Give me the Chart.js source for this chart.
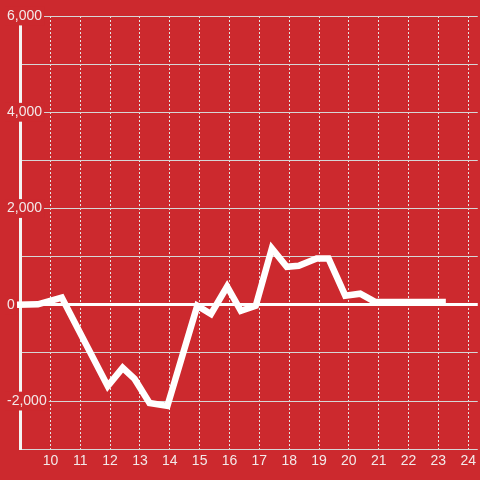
<!DOCTYPE html>
<html>
<head>
<meta charset="utf-8">
<script src="https://cdn.jsdelivr.net/npm/chart.js@4"></script>
<style>
  html, body { margin: 0; padding: 0; background: #cc292e; }
  #wrap { width: 480px; height: 480px; position: relative; }
</style>
</head>
<body>
<div id="wrap"><canvas id="chart"></canvas></div>
<script>
// Values (x = hour of day, y = value)
const hours = [8.88, 9.58, 10.38, 11.92, 12.42, 12.82, 13.32, 13.92, 14.92, 15.38, 15.92,
               16.38, 16.88, 17.42, 17.92, 18.32, 18.92, 19.32, 19.88, 20.38, 20.88, 23.25];
const values = [0, 10, 150, -1690, -1310, -1540, -2040, -2100, -20, -190, 380,
                -125, -20, 1170, 790, 810, 960, 960, 190, 230, 60, 60];
const xTicks = [10, 11, 12, 13, 14, 15, 16, 17, 18, 19, 20, 21, 22, 23, 24];
const yLabelEvery = 2000;

const RED = '#cc292e';
const TEXT = '#f3e9e9';
const FONT = { family: '"Liberation Sans", Arial, sans-serif', size: 14 };

new Chart(document.getElementById('chart'), {
    type: 'line',
    data: {
        datasets: [{
            data: hours.map((h, i) => ({ x: h, y: values[i] })),
            borderColor: '#ffffff',
            borderWidth: 6.5,
            borderJoinStyle: 'miter',
            borderCapStyle: 'butt',
            pointRadius: 0,
            tension: 0,
            clip: false
        }]
    },
    options: {
        responsive: true,
        maintainAspectRatio: false,
        animation: false,
        layout: { padding: { left: 7, top: 16, right: 0, bottom: 6 } },
        plugins: { legend: { display: false }, tooltip: { enabled: false } },
        scales: {
            x: {
                type: 'linear',
                min: 8.98,
                max: 24.32,
                afterBuildTicks: scale => { scale.ticks = xTicks.map(v => ({ value: v })); },
                grid: { color: '#e4e4e4', lineWidth: 1, drawTicks: false },
                border: { display: false, dash: [2, 2] },
                ticks: {
                    color: TEXT,
                    font: FONT,
                    padding: 4,
                    maxRotation: 0,
                    autoSkip: false,
                    callback: v => String(v)
                }
            },
            y: {
                min: -3000,
                max: 6000,
                afterFit: scale => { scale.width = 13; },
                grid: {
                    color: ctx => ctx.tick && ctx.tick.value === 0 ? '#ffffff' : '#d6d6d6',
                    lineWidth: ctx => ctx.tick && ctx.tick.value === 0 ? 3 : 1,
                    drawTicks: false
                },
                border: { display: true, color: '#f4f4f4', width: 3 },
                ticks: {
                    stepSize: 1000,
                    mirror: true,
                    padding: -13,
                    color: TEXT,
                    font: FONT,
                    showLabelBackdrop: true,
                    backdropColor: ctx => ctx.tick && ctx.tick.value % yLabelEvery === 0 ? RED : 'rgba(0,0,0,0)',
                    backdropPadding: { top: 1, bottom: 1, left: 2, right: 2 },
                    callback: v => v % yLabelEvery === 0 ? v.toLocaleString('en-US') : ''
                }
            }
        }
    }
});
</script>
</body>
</html>
